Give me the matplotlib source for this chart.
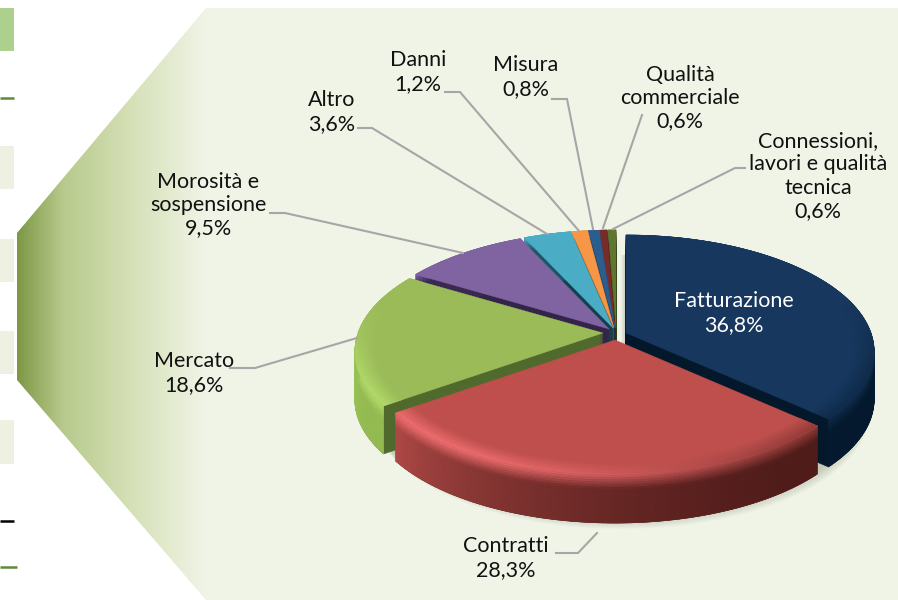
import numpy as np
import matplotlib
matplotlib.use('Agg')
import matplotlib.pyplot as plt
from matplotlib.collections import PolyCollection
from matplotlib.colors import to_rgb, LinearSegmentedColormap
from matplotlib.patches import Polygon

plt.rcParams['font.family'] = ['Lato', 'DejaVu Sans']

# data, clockwise from 12 o'clock
categories = ['Fatturazione', 'Contratti', 'Mercato', 'Morosità e\nsospensione', 'Altro',
              'Danni', 'Misura', 'Qualità\ncommerciale', 'Connessioni,\nlavori e qualità\ntecnica']
values = [36.8, 28.3, 18.6, 9.5, 3.6, 1.2, 0.8, 0.6, 0.6]

top_colors = ['#17375e', '#be4f4c', '#9bbb59', '#8064a2', '#4bacc6', '#f79646', '#2c5d8f', '#772c2a', '#5f7530']
side_right = ['#041a2e', '#4f1c1a', '#96bd52', '#3a2a52', '#1f5566', '#8a5020', '#16304a', '#3c1412', '#303c18']
side_left = ['#041a2e', '#b04a47', '#a1c95c', '#3a2a52', '#1f5566', '#8a5020', '#16304a', '#3c1412', '#303c18']
rim_colors = ['#17375e', '#f06e70', '#b4dd6c', '#8064a2', '#4bacc6', '#f79646', '#2c5d8f', '#772c2a', '#5f7530']
wall_colors = ['#04182c', '#4f1c1a', '#4f6a2c', '#33244a', '#143f4c', '#7a4518', '#16304a', '#3c1412', '#303c18']

# where each slice is pulled to (pixels)
apex_x = [626, 615, 603, 609, 613, 614, 615, 615, 616]
apex_y = [333, 340, 333, 329, 328, 328, 328, 328, 328]
draw_order = [8, 7, 6, 5, 4, 3, 2, 0, 1]

label_x = [734, 506, 194, 208, 332, 418, 526, 680, 818]
label_y = [313, 558, 373, 205, 112, 72, 77, 98, 176]
leaders = {1: [(556, 553), (578, 553), (597, 533)],
           2: [(230, 368), (255, 368), (357, 338)],
           3: [(270, 213), (285, 213), (463, 253)],
           4: [(358, 128), (372, 128), (547, 234)],
           5: [(445, 92), (460, 92), (579, 231)],
           6: [(552, 99), (567, 99), (593, 229)],
           7: [(642, 115), (603, 228)],
           8: [(745, 168), (735, 168), (613, 229)]}

boxes = [(8, 51, '#aed08f'), (146, 189, '#eef1e2'), (239, 282, '#eef1e2'), (331, 374, '#eef1e2'), (420, 464, '#eef1e2')]
rules = [(98, 14, '#5f8a3a'), (521, 14, '#000000'), (567, 17, '#5f8a3a')]

A, B, P = 245.0, 113.6, 0.159
DEPTH = 48


def project(theta, ax0, ay0, r=1.0):
    # flat disc seen in perspective, theta clockwise from the top
    u, v = r * np.sin(theta), -r * np.cos(theta)
    d = 1 - P * v
    return ax0 + A * u / d, ay0 + B * v / d


fig = plt.figure(figsize=(8.98, 6), dpi=100)
ax = fig.add_axes([0, 0, 1, 1])
ax.set_xlim(0, 898)
ax.set_ylim(600, 0)
ax.axis('off')

for y0, y1, col in boxes:
    ax.fill([0, 14, 14, 0], [y0, y0, y1, y1], color=col, lw=0)
for y, x1, col in rules:
    ax.plot([0, x1], [y, y], color=col, lw=1.8, solid_capstyle='butt')

# backing panel with the green fade
panel = Polygon([(17, 233), (206, 8), (898, 8), (898, 600), (206, 600), (17, 380)], closed=True,
                transform=ax.transData, fc='none', ec='none')
ax.add_patch(panel)
cmap = LinearSegmentedColormap.from_list('fade', [(0, '#7d9845'), (0.24, '#b7c98c'), (0.6, '#d5e0b6'),
                                                  (1, '#f0f4e7')])
grad = np.linspace(0, 1, 256).reshape(1, -1)
im = ax.imshow(grad, extent=(17, 206, 600, 8), cmap=cmap, aspect='auto', zorder=1)
im.set_clip_path(panel)
ax.fill([206, 898, 898, 206], [8, 8, 600, 600], color='#f0f4e7', lw=0, zorder=1)
ax.set_xlim(0, 898)
ax.set_ylim(600, 0)

edges = np.concatenate([[0], np.cumsum(values)]) / sum(values) * 2 * np.pi
z = 2


def slice_outline(i, dy=0.0, dx=0.0):
    th = np.linspace(edges[i], edges[i + 1], max(4, int(np.degrees(edges[i + 1] - edges[i]))))
    x, y = project(th, apex_x[i], apex_y[i])
    return np.concatenate([[apex_x[i]], x]) + dx, np.concatenate([[apex_y[i]], y]) + dy


# soft ground shadow
for k in range(10):
    th = np.linspace(np.pi * 0.4, np.pi * 1.6, 200)
    x, y = project(th, 617 + k * 0.5, 340 + DEPTH - 4 + k * 1.1)
    ax.fill(x, y, color='#6a7560', alpha=0.035, lw=0, zorder=z)
# shadow in the gap left of Fatturazione
for k in range(5):
    x, y = slice_outline(0, dy=20, dx=-1 - k)
    ax.fill(x, y, color='#555555', alpha=0.05, lw=0, zorder=z)
z += 1

for i in draw_order:
    top = np.array(to_rgb(top_colors[i]))
    rim = np.array(to_rgb(rim_colors[i]))
    wall = wall_colors[i]
    # radial walls: stack the wedge downward
    for dy in range(DEPTH, 0, -2):
        x, y = slice_outline(i, dy)
        ax.fill(x, y, color=wall, lw=0.4, zorder=z)
    th = np.linspace(edges[i], edges[i + 1], max(4, int(np.degrees(edges[i + 1] - edges[i]))))
    levels = np.linspace(0, DEPTH, 21)
    radii = np.linspace(0.92, 1.0, 7)
    c_r, c_l = np.array(to_rgb(side_right[i])), np.array(to_rgb(side_left[i]))
    side_polys, side_cols, band_polys, band_cols = [], [], [], []
    for a, b in zip(th[:-1], th[1:]):
        mid = 0.5 * (a + b)
        f = (mid - edges[i]) / (edges[i + 1] - edges[i])
        base = c_r + (c_l - c_r) * f ** 1.8
        # light comes from the lower left
        w = np.clip((-np.sin(mid) - np.cos(mid)) / 1.414, 0, 1) ** 1.5
        g = np.clip((0.3 - np.cos(mid)) / 0.6, 0, 1)
        edge_col = top + (rim - top) * w * g + (base - top) * 0.4 * (1 - w) * g
        xa, ya = project(a, apex_x[i], apex_y[i])
        xb, yb = project(b, apex_x[i], apex_y[i])
        for d0, d1 in zip(levels[:-1], levels[1:]):
            t = min(1.0, 0.5 * (d0 + d1) / 14.0)
            side_polys.append([(xa, ya + d0), (xb, yb + d0), (xb, yb + d1), (xa, ya + d1)])
            side_cols.append(edge_col + (base - edge_col) * t)
        for r0, r1 in zip(radii[:-1], radii[1:]):
            s = (0.5 * (r0 + r1) - 0.92) / 0.08
            pa0 = project(a, apex_x[i], apex_y[i], r0)
            pb0 = project(b, apex_x[i], apex_y[i], r0)
            pb1 = project(b, apex_x[i], apex_y[i], r1)
            pa1 = project(a, apex_x[i], apex_y[i], r1)
            band_polys.append([pa0, pb0, pb1, pa1])
            band_cols.append(top + (edge_col - top) * s)
    ax.add_collection(PolyCollection(side_polys, facecolors=side_cols, edgecolors=side_cols,
                                     linewidths=0.4, zorder=z + 0.1))
    x, y = slice_outline(i)
    ax.fill(x, y, color=top_colors[i], lw=0.3, zorder=z + 0.2)
    ax.add_collection(PolyCollection(band_polys, facecolors=band_cols, edgecolors=band_cols,
                                     linewidths=0.3, zorder=z + 0.3))
    z += 1

for i, pts in leaders.items():
    xs, ys = zip(*pts)
    ax.plot(xs, ys, color='#a6a6a6', lw=1.5, zorder=z, solid_joinstyle='miter')

for i, (name, val) in enumerate(zip(categories, values)):
    txt = name + '\n' + f'{val:.1f}'.replace('.', ',') + '%'
    ax.text(label_x[i], label_y[i], txt, ha='center', va='center', fontsize=15.5,
            color='white' if i == 0 else '#111111', linespacing=1.2, zorder=z + 1)

fig.savefig('out.png', dpi=100)
